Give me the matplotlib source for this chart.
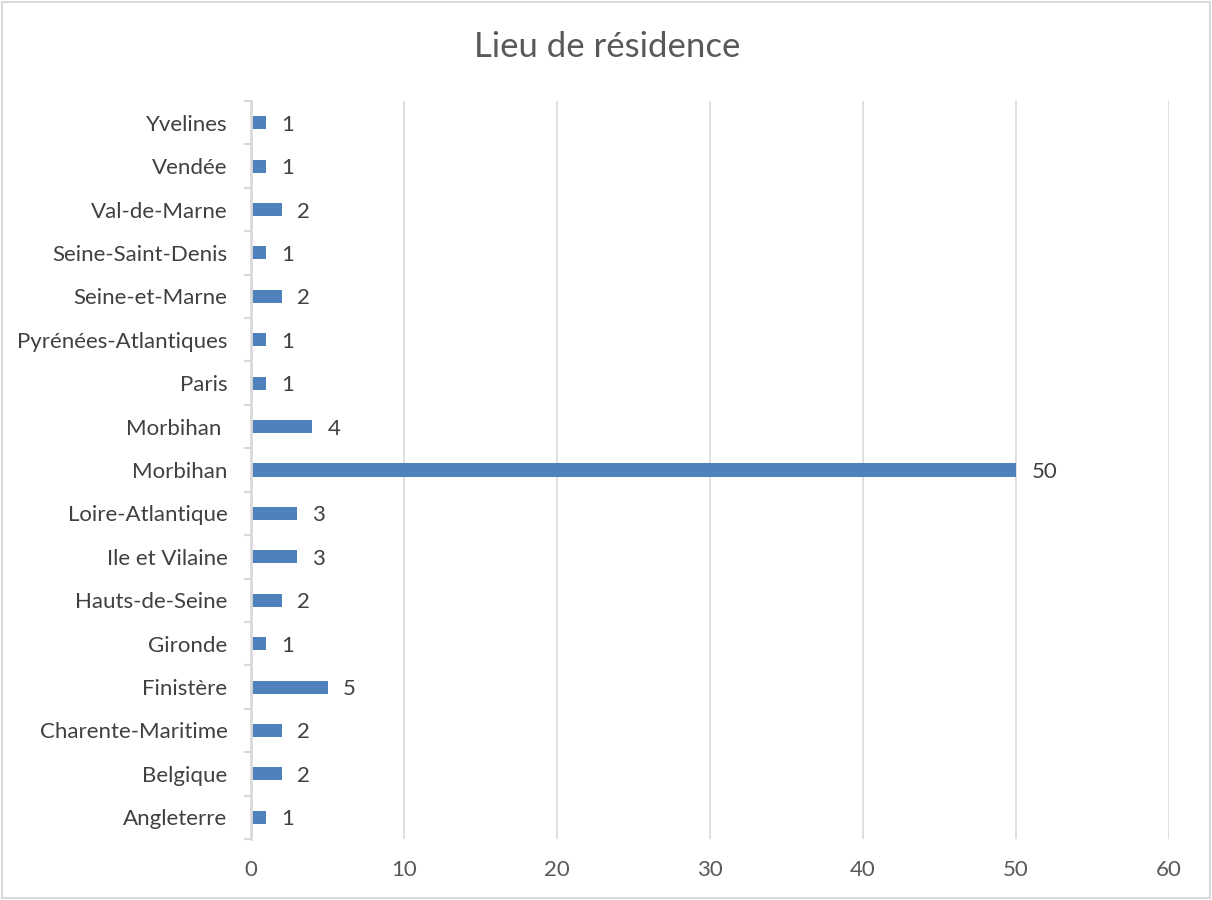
import matplotlib
matplotlib.use("Agg")
import matplotlib.pyplot as plt
from matplotlib.patches import Rectangle
import numpy as np

categories = ["Angleterre", "Belgique", "Charente-Maritime", "Finistère", "Gironde",
              "Hauts-de-Seine", "Ile et Vilaine", "Loire-Atlantique", "Morbihan", "Morbihan ",
              "Paris", "Pyrénées-Atlantiques", "Seine-et-Marne", "Seine-Saint-Denis",
              "Val-de-Marne", "Vendée", "Yvelines"]
values = [1, 2, 2, 5, 1, 2, 3, 3, 50, 4, 1, 1, 2, 1, 2, 1, 1]
xticks = [0, 10, 20, 30, 40, 50, 60]

plt.rcParams['font.family'] = ['Lato', 'DejaVu Sans']

fig = plt.figure(figsize=(12.12, 9.0), dpi=100)
ax = fig.add_axes([251/1212, 1 - 839/900, (1169-251)/1212, (839-101)/900])

y = np.arange(len(categories))
ax.barh(y, values, height=0.3, color="#4f81bd", zorder=2)
for yi, v in zip(y, values):
    ax.text(v + 1.0, yi, str(v), va="center_baseline", ha="left", fontsize=16, color="#404040")

ax.set_xlim(0, 60)
ax.set_ylim(-0.5, len(categories) - 0.5)
ax.set_xticks(xticks)
ax.set_xticklabels([str(t) for t in xticks], fontsize=16, color="#595959")
ax.set_yticks(y)
ax.set_yticklabels(categories, fontsize=16, color="#404040")
ax.set_yticks(np.arange(-0.5, len(categories), 1.0), minor=True)
ax.tick_params(axis="y", which="major", length=0, pad=17)
ax.tick_params(axis="y", which="minor", length=5, color="#d9d9d9", width=1.5, direction="out")
ax.tick_params(axis="x", length=0, pad=15)
ax.grid(axis="x", color="#d9d9d9", linewidth=1.2, zorder=0)
for s in ["top", "right", "bottom"]:
    ax.spines[s].set_visible(False)
ax.spines["left"].set_color("#d9d9d9")
ax.spines["left"].set_linewidth(2)
ax.spines["left"].set_zorder(3)

fig.text(607/1212, 1 - 47/900, "Lieu de résidence", ha="center", va="center",
         fontsize=25, color="#595959")

fig.patches.append(Rectangle((0.002, 0.002), 0.996, 0.996, transform=fig.transFigure,
                             fill=False, edgecolor="#d9d9d9", linewidth=1.5))

fig.savefig("out.png", dpi=100, facecolor="white")
